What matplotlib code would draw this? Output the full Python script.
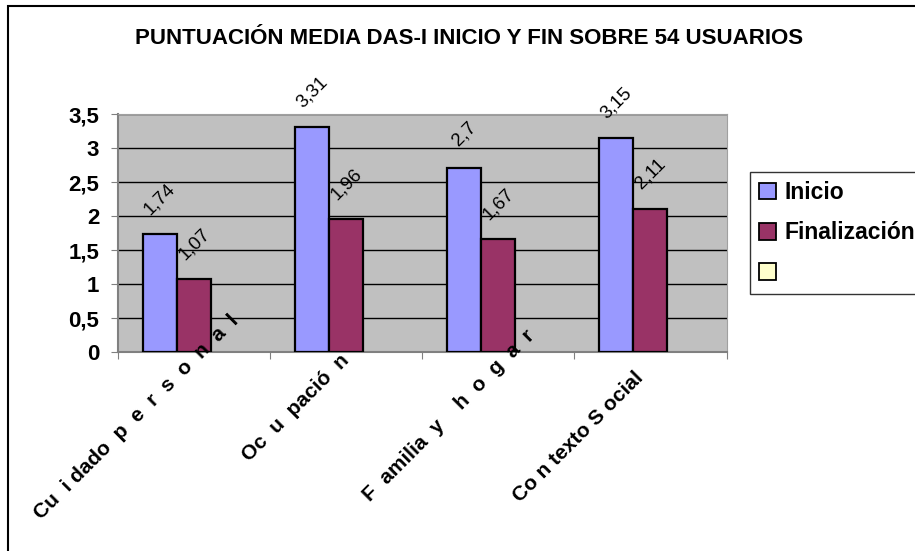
import matplotlib
matplotlib.use('Agg')
import matplotlib.pyplot as plt
from matplotlib.patches import Patch, Rectangle

plt.rcParams['font.family'] = ['Liberation Sans', 'DejaVu Sans']

# data
categorias = ['Cuidado personal', 'Ocupación', 'Familia y hogar', 'Contexto Social']
# the original export spaces the letters out oddly
etiquetas = ['Cu  i dado  p  e  r  s  o  n  a  l', 'Oc  u  pació  n',
             'F  amilia  y    h  o  g  a  r', 'Co n texto S ocial']
inicio = [1.74, 3.31, 2.7, 3.15]
final = [1.07, 1.96, 1.67, 2.11]
textos_inicio = ['1,74', '3,31', '2,7', '3,15']
textos_final = ['1,07', '1,96', '1,67', '2,11']
series = ['Inicio', 'Finalización', '']
yticks = [0, 0.5, 1, 1.5, 2, 2.5, 3, 3.5]
ytick_labels = ['0', '0,5', '1', '1,5', '2', '2,5', '3', '3,5']

c_ini = '#9999FF'
c_fin = '#993366'
c_vacio = '#FFFFCC'

fig = plt.figure(figsize=(9.15, 5.51), dpi=100)
ax = fig.add_axes([0.129, 0.361, 0.665, 0.432])
ax.set_facecolor('#C0C0C0')

w = 0.224
x = list(range(len(categorias)))
ax.bar([i - w for i in x], inicio, w, color=c_ini, edgecolor='black', linewidth=1.6, zorder=3)
ax.bar(x, final, w, color=c_fin, edgecolor='black', linewidth=1.6, zorder=3)

for i in x:
    ax.annotate(textos_inicio[i], (i - w, inicio[i]), xytext=(0, 25), textcoords='offset points',
                ha='center', va='center', rotation=45, fontsize=13.5, zorder=5)
    ax.annotate(textos_final[i], (i, final[i]), xytext=(0, 25), textcoords='offset points',
                ha='center', va='center', rotation=45, fontsize=13.5, zorder=5)

ax.set_xlim(-0.5, 3.5)
ax.set_ylim(0, 3.5)
ax.set_yticks(yticks)
ax.set_yticklabels(ytick_labels, fontsize=16, fontweight='bold')
ax.yaxis.grid(True, color='black', linewidth=1)
ax.set_axisbelow(True)
ax.set_xticks([-0.5, 0.5, 1.5, 2.5, 3.5])
ax.set_xticklabels([])
ax.tick_params(axis='both', length=5, color='#808080')
ax.tick_params(axis='y', pad=8.5)
for s in ['top', 'right']:
    ax.spines[s].set_color('#A0A0A0')
for s in ['left', 'bottom']:
    ax.spines[s].set_color('#808080')
    ax.spines[s].set_linewidth(1.5)

# category labels, rotated, starting lower-left of each group
offsets = [(-110, -121), (-70, -79), (-92, -108), (-94, -109)]
for i, lab in enumerate(etiquetas):
    ax.annotate(lab, (i, 0), xytext=offsets[i], textcoords='offset points',
                ha='left', va='baseline', rotation=45, rotation_mode='anchor',
                fontsize=15, fontweight='bold', annotation_clip=False, zorder=6)

fig.text(0.513, 0.931, 'PUNTUACIÓN MEDIA DAS-I INICIO Y FIN SOBRE 54 USUARIOS',
         ha='center', va='center', fontsize=16, fontweight='bold')

handles = [Patch(facecolor=c, edgecolor='black', linewidth=1.3) for c in [c_ini, c_fin, c_vacio]]
leg = fig.legend(handles, series, loc='upper left', bbox_to_anchor=(0.8197, 0.688),
                 frameon=True, fancybox=False, prop={'size': 16.5, 'weight': 'bold'},
                 handlelength=0.75, handleheight=0.75, handletextpad=0.35, labelspacing=0.75,
                 borderpad=0.4, borderaxespad=0)
leg.get_frame().set_edgecolor('black')
leg.get_frame().set_linewidth(1)

fig.patches.append(Rectangle((8 / 915, -0.2), 1.2, 1.2 - 6 / 551, transform=fig.transFigure,
                             fill=False, edgecolor='black', linewidth=1.5))

fig.savefig('out.png', dpi=100)
